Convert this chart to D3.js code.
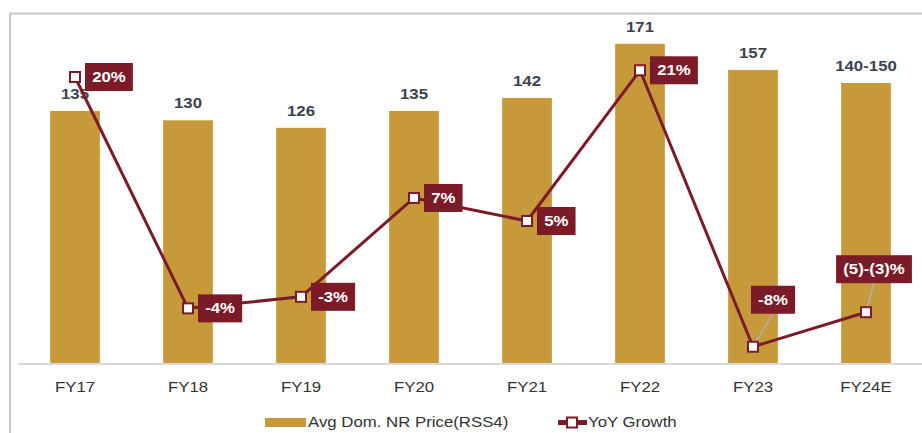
<!DOCTYPE html>
<html><head><meta charset="utf-8">
<script src="https://cdn.jsdelivr.net/npm/d3@7"></script>
<style>html,body{margin:0;padding:0;background:#fff;}svg{display:block;font-family:"Liberation Sans",Arial,sans-serif;}</style>
</head><body><svg id="c" width="922" height="433"></svg>
<script>
const categories = ["FY17","FY18","FY19","FY20","FY21","FY22","FY23","FY24E"];
const priceValues = [135,130,126,135,142,171,157,150];
const priceLabels = ["135","130","126","135","142","171","157","140-150"];
const growthValues = [20.0,-4.1,-2.9,7.4,5.0,20.7,-8.1,-4.5];
const growthLabels = ["20%","-4%","-3%","7%","5%","21%","-8%","(5)-(3)%"];
const seriesNames = ["Avg Dom. NR Price(RSS4)","YoY Growth"];

const GOLD="#C69A3B", RED="#7B1B28", SX=1.2;
const svg=d3.select("#c");
const x=d3.scalePoint().domain(categories).range([18.5,922.5]).padding(0.5);
const y=d3.scaleLinear().domain([0,180]).range([363,27]);
const y2=d3.scaleLinear().domain([-10,25]).range([365,29]);
const bw=x.step()*0.44;

// frame
svg.append("path").attr("d","M10,440V13.5H930").attr("fill","none").attr("stroke","#c8c8c8").attr("stroke-width",2);

// text helper with horizontal stretch
function txt(g,tx,ty,s,opts){
  const t=g.append("text").attr("transform",`translate(${tx},${ty}) scale(${SX},1)`).text(s);
  for(const k in opts) t.attr(k,opts[k]);
  return t;
}

// bars
svg.append("g").selectAll("rect").data(priceValues).join("rect")
  .attr("x",(d,i)=>x(categories[i])-bw/2).attr("width",bw)
  .attr("y",d=>y(d)).attr("height",d=>y(0)-y(d)).attr("fill",GOLD);

// baseline
svg.append("line").attr("x1",18).attr("x2",922).attr("y1",364).attr("y2",364).attr("stroke","#d9d9d9").attr("stroke-width",2);

// x axis labels
const xa=svg.append("g").attr("transform","translate(0,364)").call(d3.axisBottom(x).tickSize(0).tickPadding(0));
xa.select(".domain").remove();
xa.selectAll("text").remove();
const xg=svg.append("g");
categories.forEach(c=>txt(xg,x(c),392,c,{"text-anchor":"middle","font-size":"14px","fill":"#333"}));

// bar labels
const bl=svg.append("g");
priceValues.forEach((v,i)=>txt(bl,x(categories[i]),y(v)-12,priceLabels[i],{"text-anchor":"middle","font-size":"14px","font-weight":"bold","fill":"#3c4250"}));

// line
const line=d3.line().x((d,i)=>x(categories[i])).y(d=>y2(d));
svg.append("path").datum(growthValues).attr("d",line).attr("fill","none").attr("stroke",RED).attr("stroke-width",3).attr("stroke-linejoin","round");

// labels for line
const ll=svg.append("g");
const placeAbove={6:[20,-47],7:[8,-43]};
growthValues.forEach((v,i)=>{
  const px=x(categories[i]), py=y2(v);
  const g=ll.append("g");
  const t=txt(g,0,0,growthLabels[i],{"font-size":"14px","font-weight":"bold","fill":"#fff","text-anchor":"middle"});
  const w=t.node().getBBox().width*SX+14, h=28;
  let cx,cy;
  if(placeAbove[i]){cx=px+placeAbove[i][0];cy=py+placeAbove[i][1];}
  else {cx=px+10+w/2;cy=py;}
  if(placeAbove[i]){
    g.insert("line","text").attr("x1",px).attr("y1",py).attr("x2",cx).attr("y2",cy+h/2).attr("stroke","#b0b0b0").attr("stroke-width",1.5);
  }
  g.insert("rect","text").attr("x",cx-w/2).attr("y",cy-h/2).attr("width",w).attr("height",h).attr("fill",RED);
  t.attr("transform",`translate(${cx},${cy+5}) scale(${SX},1)`);
});

// markers
svg.append("g").selectAll("rect").data(growthValues).join("rect")
  .attr("x",(d,i)=>x(categories[i])-5).attr("y",d=>y2(d)-5).attr("width",10).attr("height",10)
  .attr("fill","#fff").attr("stroke",RED).attr("stroke-width",2);

// legend
const lg=svg.append("g");
lg.append("rect").attr("x",265).attr("y",418).attr("width",41).attr("height",9).attr("fill",GOLD);
txt(lg,308,427,seriesNames[0],{"font-size":"14px","fill":"#333"});
lg.append("line").attr("x1",558).attr("x2",587).attr("y1",422.5).attr("y2",422.5).attr("stroke",RED).attr("stroke-width",5);
lg.append("rect").attr("x",567).attr("y",417.5).attr("width",10).attr("height",10).attr("fill","#fff").attr("stroke",RED).attr("stroke-width",2);
txt(lg,588,427,seriesNames[1],{"font-size":"14px","fill":"#333"});
</script></body></html>
